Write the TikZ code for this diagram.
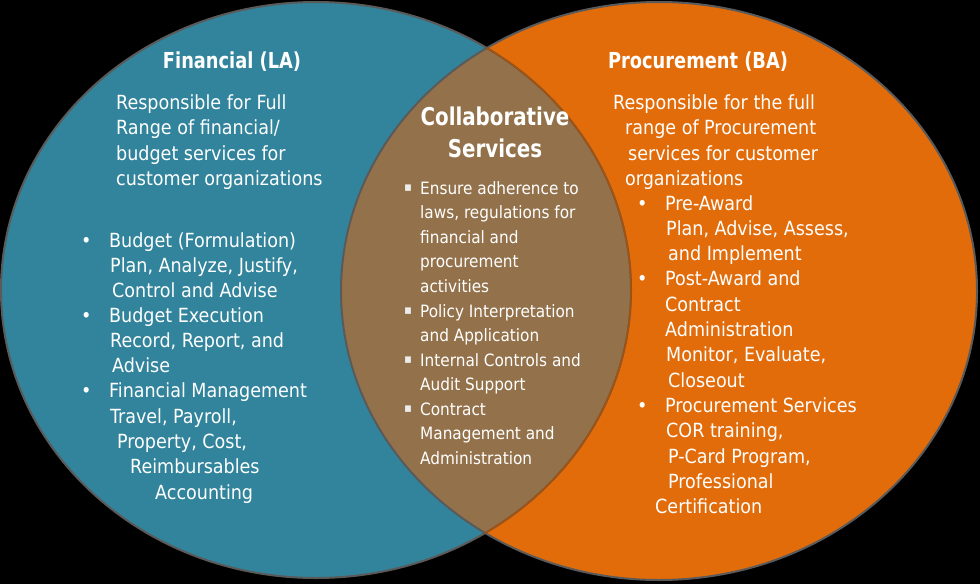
\documentclass[tikz,border=0pt]{standalone}
\usepackage{fontspec}
\setmainfont{DejaVu Sans Condensed}
\newfontfamily\headfont[FakeStretch=0.9]{DejaVu Sans Condensed}
\definecolor{laTeal}{HTML}{31849B}
\definecolor{baOrange}{HTML}{E36C0A}
\definecolor{mixBrown}{HTML}{93724B}
\definecolor{rimGray}{HTML}{5A5A5A}
\begin{document}
\begin{tikzpicture}[x=1pt,y=-1pt]
\useasboundingbox (0,0) rectangle (980,584);
\fill[black] (0,0) rectangle (980,584);

% the two sets and their overlap
\fill[laTeal] (316,290) ellipse [x radius=315, y radius=288];
\fill[baOrange] (659,291) ellipse [x radius=318, y radius=289];
\begin{scope}
\clip (316,290) ellipse [x radius=315, y radius=288];
\fill[mixBrown] (659,291) ellipse [x radius=318, y radius=289];
\end{scope}
\draw[rimGray, line width=2] (316,290) ellipse [x radius=315, y radius=288];
\draw[rimGray, line width=2] (659,291) ellipse [x radius=318, y radius=289];
\begin{scope}
\clip (659,291) ellipse [x radius=318, y radius=289];
\draw[baOrange!75!black, line width=1.5] (316,290) ellipse [x radius=315, y radius=288];
\end{scope}

\begin{scope}
\tikzstyle{every node}=[inner sep=0pt, text=white];
\tikzstyle{head}=[font=\headfont\bfseries\fontsize{22}{26}\selectfont, anchor=base];
\tikzstyle{bighead}=[font=\headfont\bfseries\fontsize{24.5}{30}\selectfont, anchor=base];
\tikzstyle{body}=[font=\fontsize{19.5}{25}\selectfont, anchor=base west];
\tikzstyle{collab}=[font=\fontsize{17}{24.5}\selectfont, anchor=base west];
\tikzstyle{sqbul}=[font=\fontsize{13}{14}\selectfont, text=white!85!gray, anchor=base west];

% Financial (LA)
\draw (232,68) node[head] (lhead) {Financial (LA)};
\draw (116,109) node[body] (l1) {Responsible for Full};
\draw (116,134.5) node[body] (l2) {Range of financial/};
\draw (116,160) node[body] (l3) {budget services for};
\draw (116,185) node[body] (l4) {customer organizations};
\draw (81,247) node[body] (lb1) {•};
\draw (109,247) node[body] (l5) {Budget (Formulation)};
\draw (110,272) node[body] (l6) {Plan, Analyze, Justify,};
\draw (112,297) node[body] (l7) {Control and Advise};
\draw (81,322) node[body] (lb2) {•};
\draw (109,322) node[body] (l8) {Budget Execution};
\draw (110,347) node[body] (l9) {Record, Report, and};
\draw (112,372) node[body] (l10) {Advise};
\draw (81,397) node[body] (lb3) {•};
\draw (109,397) node[body] (l11) {Financial Management};
\draw (110,423) node[body] (l12) {Travel, Payroll,};
\draw (117,448) node[body] (l13) {Property, Cost,};
\draw (130,473) node[body] (l14) {Reimbursables};
\draw (155,499) node[body] (l15) {Accounting};

% Collaborative Services
\draw (495,125) node[bighead] (chead1) {Collaborative};
\draw (495,157) node[bighead] (chead2) {Services};
\draw (404,191) node[sqbul] (cb1) {▪};
\draw (420,194) node[collab] (c1) {Ensure adherence to};
\draw (420,218.5) node[collab] (c2) {laws, regulations for};
\draw (420,243) node[collab] (c3) {financial and};
\draw (420,267.5) node[collab] (c4) {procurement};
\draw (420,292) node[collab] (c5) {activities};
\draw (404,314) node[sqbul] (cb2) {▪};
\draw (420,317) node[collab] (c6) {Policy Interpretation};
\draw (420,341) node[collab] (c7) {and Application};
\draw (404,363) node[sqbul] (cb3) {▪};
\draw (420,366) node[collab] (c8) {Internal Controls and};
\draw (420,390) node[collab] (c9) {Audit Support};
\draw (404,412) node[sqbul] (cb4) {▪};
\draw (420,415) node[collab] (c10) {Contract};
\draw (420,439.5) node[collab] (c11) {Management and};
\draw (420,464) node[collab] (c12) {Administration};

% Procurement (BA)
\draw (698,68) node[head] (rhead) {Procurement (BA)};
\draw (613,109) node[body] (r1) {Responsible for the full};
\draw (625,134.5) node[body] (r2) {range of Procurement};
\draw (628,160) node[body] (r3) {services for customer};
\draw (625,185) node[body] (r4) {organizations};
\draw (637,210) node[body] (rb1) {•};
\draw (665,210) node[body] (r5) {Pre-Award};
\draw (666,235) node[body] (r6) {Plan, Advise, Assess,};
\draw (668,260) node[body] (r7) {and Implement};
\draw (637,285) node[body] (rb2) {•};
\draw (665,285) node[body] (r8) {Post-Award and};
\draw (665,311) node[body] (r9) {Contract};
\draw (665,336) node[body] (r10) {Administration};
\draw (666,361.5) node[body] (r11) {Monitor, Evaluate,};
\draw (668,387) node[body] (r12) {Closeout};
\draw (637,412) node[body] (rb3) {•};
\draw (665,412) node[body] (r13) {Procurement Services};
\draw (666,437.5) node[body] (r14) {COR training,};
\draw (668,463) node[body] (r15) {P-Card Program,};
\draw (668,488) node[body] (r16) {Professional};
\draw (655,513) node[body] (r17) {Certification};
\end{scope}
\end{tikzpicture}
\end{document}
